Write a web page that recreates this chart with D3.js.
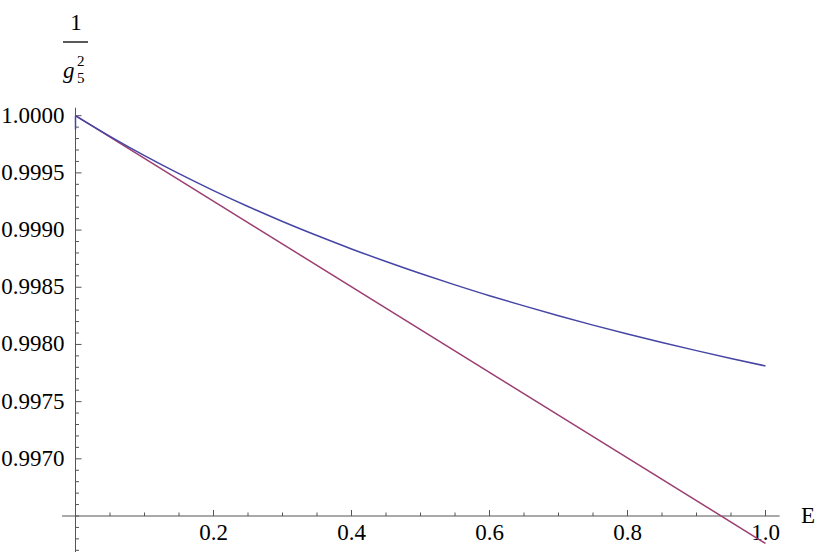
<!DOCTYPE html>
<html>
<head>
<meta charset="utf-8">
<script src="https://cdn.jsdelivr.net/npm/d3@7"></script>
</head>
<body style="margin:0;background:#fff">
<svg id="chart" width="817" height="552" style="display:block"></svg>
<script>
// ---- data ----
const energyE = [0, 0.05, 0.1, 0.15, 0.2, 0.25, 0.3, 0.35, 0.4, 0.45, 0.5,
                 0.55, 0.6, 0.65, 0.7, 0.75, 0.8, 0.85, 0.9, 0.95, 1.0];
const blueValues = [1.000000, 0.999820, 0.999651, 0.999493, 0.999345, 0.999206, 0.999075,
                    0.998952, 0.998835, 0.998725, 0.998620, 0.998521, 0.998426, 0.998337,
                    0.998251, 0.998169, 0.998091, 0.998017, 0.997946, 0.997878, 0.997812];
const redE = [0, 1.0];
const redValues = [1.00000, 0.99626];
const blueStubE = [0, 0];
const blueStubValues = [1.00000, 0.99988];

const xMajorTicks = [0.2, 0.4, 0.6, 0.8, 1.0];
const xTickLabels = ["0.2", "0.4", "0.6", "0.8", "1.0"];
const yMajorTicks = [0.9970, 0.9975, 0.9980, 0.9985, 0.9990, 0.9995, 1.0000];
const yTickLabels = ["0.9970", "0.9975", "0.9980", "0.9985", "0.9990", "0.9995", "1.0000"];

// ---- layout ----
const svg = d3.select("#chart");
const x = d3.scaleLinear().domain([0, 1]).range([75.5, 765.5]);
const y = d3.scaleLinear().domain([0.9965, 1.0]).range([516, 115.7]);
const axisColor = "#555";
const blue = "#4545a5";
const red = "#9b3e72";

const xAxisExtent = [-0.0195, 1.0205];
const yAxisExtent = [0.99617, 1.00007];

const xMinor = d3.range(1, 21).map(i => i * 0.05).filter(v => !xMajorTicks.some(m => Math.abs(m - v) < 1e-9));
const yMinor = d3.range(0, 39).map(i => 0.9962 + i * 0.0001)
  .filter(v => v <= 1.00001 && !yMajorTicks.some(m => Math.abs(m - v) < 1e-9));

// ---- axes ----
const ax = svg.append("g").attr("stroke", axisColor).attr("stroke-width", 1).attr("fill", "none");
ax.append("line")
  .attr("x1", x(xAxisExtent[0])).attr("x2", x(xAxisExtent[1]))
  .attr("y1", y(0.9965)).attr("y2", y(0.9965));
ax.append("line")
  .attr("x1", x(0)).attr("x2", x(0))
  .attr("y1", y(yAxisExtent[0])).attr("y2", y(yAxisExtent[1]));

ax.selectAll(".xmaj").data(xMajorTicks).join("line")
  .attr("x1", d => x(d)).attr("x2", d => x(d))
  .attr("y1", y(0.9965)).attr("y2", y(0.9965) - 6);
ax.selectAll(".xmin").data(xMinor).join("line")
  .attr("x1", d => x(d)).attr("x2", d => x(d))
  .attr("y1", y(0.9965)).attr("y2", y(0.9965) - 3.5);
ax.selectAll(".ymaj").data(yMajorTicks).join("line")
  .attr("x1", x(0)).attr("x2", x(0) + 6)
  .attr("y1", d => y(d)).attr("y2", d => y(d));
ax.selectAll(".ymin").data(yMinor).join("line")
  .attr("x1", x(0)).attr("x2", x(0) + 3.5)
  .attr("y1", d => y(d)).attr("y2", d => y(d));

function txt(sel, size) {
  return sel.attr("font-family", "Liberation Serif")
    .style("font-family", "Liberation Serif")
    .attr("font-size", size)
    .style("font-size", size + "px")
    .attr("fill", "#000");
}

txt(svg.append("g").selectAll("text").data(xMajorTicks).join("text"), 23)
  .attr("x", d => x(d)).attr("y", y(0.9965) + 24)
  .attr("text-anchor", "middle")
  .text((d, i) => xTickLabels[i]);
txt(svg.append("g").selectAll("text").data(yMajorTicks).join("text"), 23)
  .attr("x", x(0) - 11).attr("y", d => y(d) + 7)
  .attr("text-anchor", "end")
  .text((d, i) => yTickLabels[i]);

txt(svg.append("text"), 23).attr("x", 801).attr("y", 523).text("E");
const yl = svg.append("g");
txt(yl.append("text"), 23).attr("x", 76).attr("y", 30).attr("text-anchor", "middle").text("1");
yl.append("line").attr("x1", 63).attr("x2", 88).attr("y1", 42).attr("y2", 42)
  .attr("stroke", "#000").attr("stroke-width", 1.3);
txt(yl.append("text"), 23).attr("x", 63).attr("y", 78).attr("font-style", "italic").style("font-style", "italic").text("g");
txt(yl.append("text"), 15).attr("x", 77).attr("y", 66).text("2");
txt(yl.append("text"), 15).attr("x", 77).attr("y", 83).text("5");

// ---- curves ----
const line = d3.line().x(d => x(d[0])).y(d => y(d[1]));
svg.append("path").datum(redE.map((e, i) => [e, redValues[i]]))
  .attr("d", line).attr("fill", "none").attr("stroke", red).attr("stroke-width", 1.5);
svg.append("path").datum(energyE.map((e, i) => [e, blueValues[i]]))
  .attr("d", d3.line().x(d => x(d[0])).y(d => y(d[1])).curve(d3.curveNatural))
  .attr("fill", "none").attr("stroke", blue).attr("stroke-width", 1.5);
svg.append("path").datum(blueStubE.map((e, i) => [e, blueStubValues[i]]))
  .attr("d", line).attr("fill", "none").attr("stroke", blue).attr("stroke-width", 1.5);
</script>
</body>
</html>
